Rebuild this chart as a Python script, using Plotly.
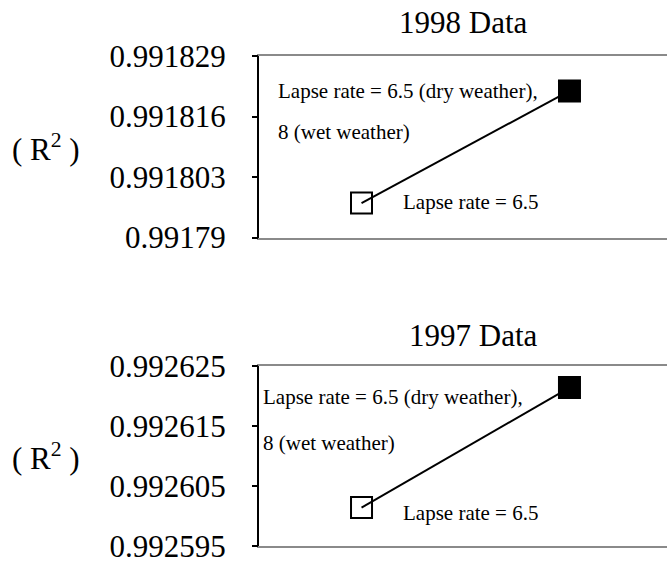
import plotly.graph_objects as go

# Model variants compared in each year
variants = ["Lapse rate = 6.5", "Lapse rate = 6.5 (dry weather), 8 (wet weather)"]
variant_pos = [1, 2]
marker_symbols = ["square-open", "square"]

# Coefficient of determination for each variant
r2_1998 = [0.9917974, 0.9918215]
r2_1997 = [0.9926014, 0.9926214]

# Axis ticks for each panel
ticks_1998 = [0.99179, 0.991803, 0.991816, 0.991829]
tick_text_1998 = ["0.99179", "0.991803", "0.991816", "0.991829"]
ticks_1997 = [0.992595, 0.992605, 0.992615, 0.992625]
tick_text_1997 = ["0.992595", "0.992605", "0.992615", "0.992625"]

W, H = 667, 563
ML = 259
SERIF = "Liberation Serif"


def px_x(px):
    return (px - ML) / (W - ML)


def px_y(py):
    return 1 - py / H


fig = go.Figure()

for r2, xa, ya in [(r2_1998, "x", "y"), (r2_1997, "x2", "y2")]:
    fig.add_trace(go.Scatter(
        x=variant_pos, y=r2, xaxis=xa, yaxis=ya,
        mode="lines+markers", text=variants, hoverinfo="text+y",
        line=dict(color="black", width=2),
        marker=dict(symbol=marker_symbols, size=21, color="black",
                    line=dict(color="black", width=2)),
        showlegend=False,
    ))

# empty traces so the tick-mark overlay axes get drawn
for xa, ya in [("x", "y3"), ("x2", "y4")]:
    fig.add_trace(go.Scatter(x=[None], y=[None], xaxis=xa, yaxis=ya,
                             mode="markers", showlegend=False, hoverinfo="skip"))

x_common = dict(range=[0.507, 2.469], showgrid=False, zeroline=False,
                showticklabels=False, ticks="", showline=True,
                linecolor="#8a8a8a", linewidth=2, mirror=True,
                automargin=False)
# Labelled axis: long transparent ticks push the labels away from the line
y_labels = dict(showgrid=False, zeroline=False, showline=True,
                linecolor="black", linewidth=2, ticks="outside",
                ticklen=25, tickwidth=2, tickcolor="rgba(0,0,0,0)",
                automargin=False, ticklabeloverflow="allow",
                tickfont=dict(family=SERIF, size=31, color="black"))
# Overlay axis: the short visible tick marks
y_marks = dict(showgrid=False, zeroline=False, showline=False,
               ticks="outside", ticklen=6, tickwidth=2, tickcolor="black",
               showticklabels=False, automargin=False)

dom_1998 = [px_y(237.5), px_y(56)]
dom_1997 = [px_y(546), px_y(366)]
rng_1998 = [ticks_1998[0], ticks_1998[-1]]
rng_1997 = [ticks_1997[0], ticks_1997[-1]]

fig.update_layout(
    width=W, height=H,
    margin=dict(l=ML, r=0, t=0, b=0, autoexpand=False),
    paper_bgcolor="white", plot_bgcolor="white",
    xaxis=dict(domain=[0, 1], anchor="y", **x_common),
    yaxis=dict(domain=dom_1998, anchor="x", range=rng_1998,
               tickvals=ticks_1998, ticktext=tick_text_1998, **y_labels),
    xaxis2=dict(domain=[0, 1], anchor="y2", **x_common),
    yaxis2=dict(domain=dom_1997, anchor="x2", range=rng_1997,
                tickvals=ticks_1997, ticktext=tick_text_1997, **y_labels),
    yaxis3=dict(overlaying="y", anchor="x", range=rng_1998,
                tickvals=ticks_1998, **y_marks),
    yaxis4=dict(overlaying="y2", anchor="x2", range=rng_1997,
                tickvals=ticks_1997, **y_marks),
)


def note(text, x, y, size, xanchor="left"):
    fig.add_annotation(text=text, xref="paper", yref="paper",
                       x=px_x(x), y=px_y(y), xanchor=xanchor, yanchor="middle",
                       showarrow=False,
                       font=dict(family=SERIF, size=size, color="black"))


# Panel titles and y-axis labels
note("1998 Data", 463.7, 23, 31, "center")
note("1997 Data", 473.7, 335, 31, "center")
note("( R<sup>2</sup> )", 46.3, 147, 31, "center")
note("( R<sup>2</sup> )", 46.3, 456, 31, "center")

# Point labels, 1998 panel
note("Lapse rate = 6.5 (dry weather),", 276, 91, 21)
note("8 (wet weather)", 276, 132, 21)
note("Lapse rate = 6.5", 401, 202, 21)

# Point labels, 1997 panel
note("Lapse rate = 6.5 (dry weather),", 261, 397, 21)
note("8 (wet weather)", 261, 443, 21)
note("Lapse rate = 6.5", 401, 513, 21)

fig.write_html("out.html")
